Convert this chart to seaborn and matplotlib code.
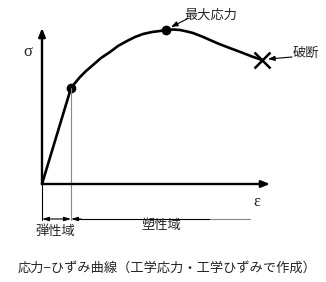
import matplotlib
matplotlib.use("Agg")
import matplotlib.pyplot as plt
import seaborn as sns
import pandas as pd

# Stress-strain curve (diagram units)
strain = [0, 29, 33, 38, 44, 51, 59, 68, 76, 85, 93, 101, 110, 118, 124, 131, 138, 145, 151, 160, 168, 176, 185, 193, 201, 210, 220]
stress = [0, 96, 101, 107, 113, 119, 126, 132, 138, 143, 147, 150, 152, 153, 154, 154.5, 154, 152.5, 151, 147.5, 144, 140.5, 137, 134, 131, 127.5, 124]
yield_pt = (29, 96)
max_pt = (124, 154)
fracture_pt = (220, 124)

labels = {
    "sigma": "σ",
    "eps": "ε",
    "max": "最大応力",
    "fracture": "破断",
    "elastic": "弾性域",
    "plastic": "塑性域",
    "title": "応力−ひずみ曲線（工学応力・工学ひずみで作成）",
}

sns.set_style("white")
jp = ["Noto Sans CJK JP", "DejaVu Sans"]
plt.rcParams["font.family"] = jp

fig = plt.figure(figsize=(3.26, 2.82), dpi=100)
ax = fig.add_axes([0, 0, 1, 1])
ax.set_xlim(-42, 284)
ax.set_ylim(-98, 184)
ax.axis("off")

df = pd.DataFrame({"strain": strain, "stress": stress})
sns.lineplot(data=df, x="strain", y="stress", ax=ax, color="black", lw=1.9,
             sort=False, estimator=None)

# axes arrows
ax.annotate("", xy=(228, 0), xytext=(0, 0),
            arrowprops=dict(arrowstyle="-|>,head_length=0.5,head_width=0.2", color="black", lw=1.7, shrinkA=0, shrinkB=0))
ax.annotate("", xy=(0, 156), xytext=(0, 0),
            arrowprops=dict(arrowstyle="-|>,head_length=0.5,head_width=0.2", color="black", lw=1.7, shrinkA=0, shrinkB=0))

# markers
ax.plot(*yield_pt, "o", color="black", ms=6)
ax.plot(*max_pt, "o", color="black", ms=6)
ax.plot(*fracture_pt, "x", color="black", ms=11, mew=1.8)

# guide lines
ax.plot([yield_pt[0], yield_pt[0]], [yield_pt[1], -36], color="#888888", lw=0.8)
ax.plot([0, 0], [0, -36], color="black", lw=0.8)

# dimension arrows
ax.annotate("", xy=(0, -35), xytext=(yield_pt[0], -35),
            arrowprops=dict(arrowstyle="<|-|>,head_length=0.4,head_width=0.12", color="black", lw=0.8, shrinkA=0, shrinkB=0))
ax.plot([yield_pt[0] + 2, 168], [-35, -35], color="black", lw=0.8)
ax.plot([168, 208], [-35, -35], color="#888888", lw=0.8)
ax.annotate("", xy=(yield_pt[0], -35), xytext=(yield_pt[0] + 10, -35),
            arrowprops=dict(arrowstyle="-|>,head_length=0.4,head_width=0.12", color="black", lw=0.8, shrinkA=0, shrinkB=0))

# text labels
ax.text(-14, 132, labels["sigma"], family="Liberation Serif", fontsize=12, ha="center", va="center")
ax.text(215, -18, labels["eps"], family="Liberation Serif", fontsize=12, ha="center", va="center")
ax.text(169, 169, labels["max"], fontsize=9.5, ha="center", va="center", family=jp)
ax.text(264, 131, labels["fracture"], fontsize=9.5, ha="center", va="center", family=jp)
ax.text(13, -48, labels["elastic"], fontsize=9.5, ha="center", va="center", family=jp)
ax.text(119, -41, labels["plastic"], fontsize=9.5, ha="center", va="center", family=jp)
ax.text(125, -84, labels["title"], fontsize=9.5, ha="center", va="center", family=jp)

# pointer arrows
ax.annotate("", xy=(129, 157), xytext=(145, 165),
            arrowprops=dict(arrowstyle="-|>,head_length=0.4,head_width=0.15", color="black", lw=0.8, shrinkA=0, shrinkB=0))
ax.annotate("", xy=(226, 125), xytext=(250, 127),
            arrowprops=dict(arrowstyle="-|>,head_length=0.4,head_width=0.15", color="black", lw=0.8, shrinkA=0, shrinkB=0))

fig.savefig("out.png", dpi=100, facecolor="white")
